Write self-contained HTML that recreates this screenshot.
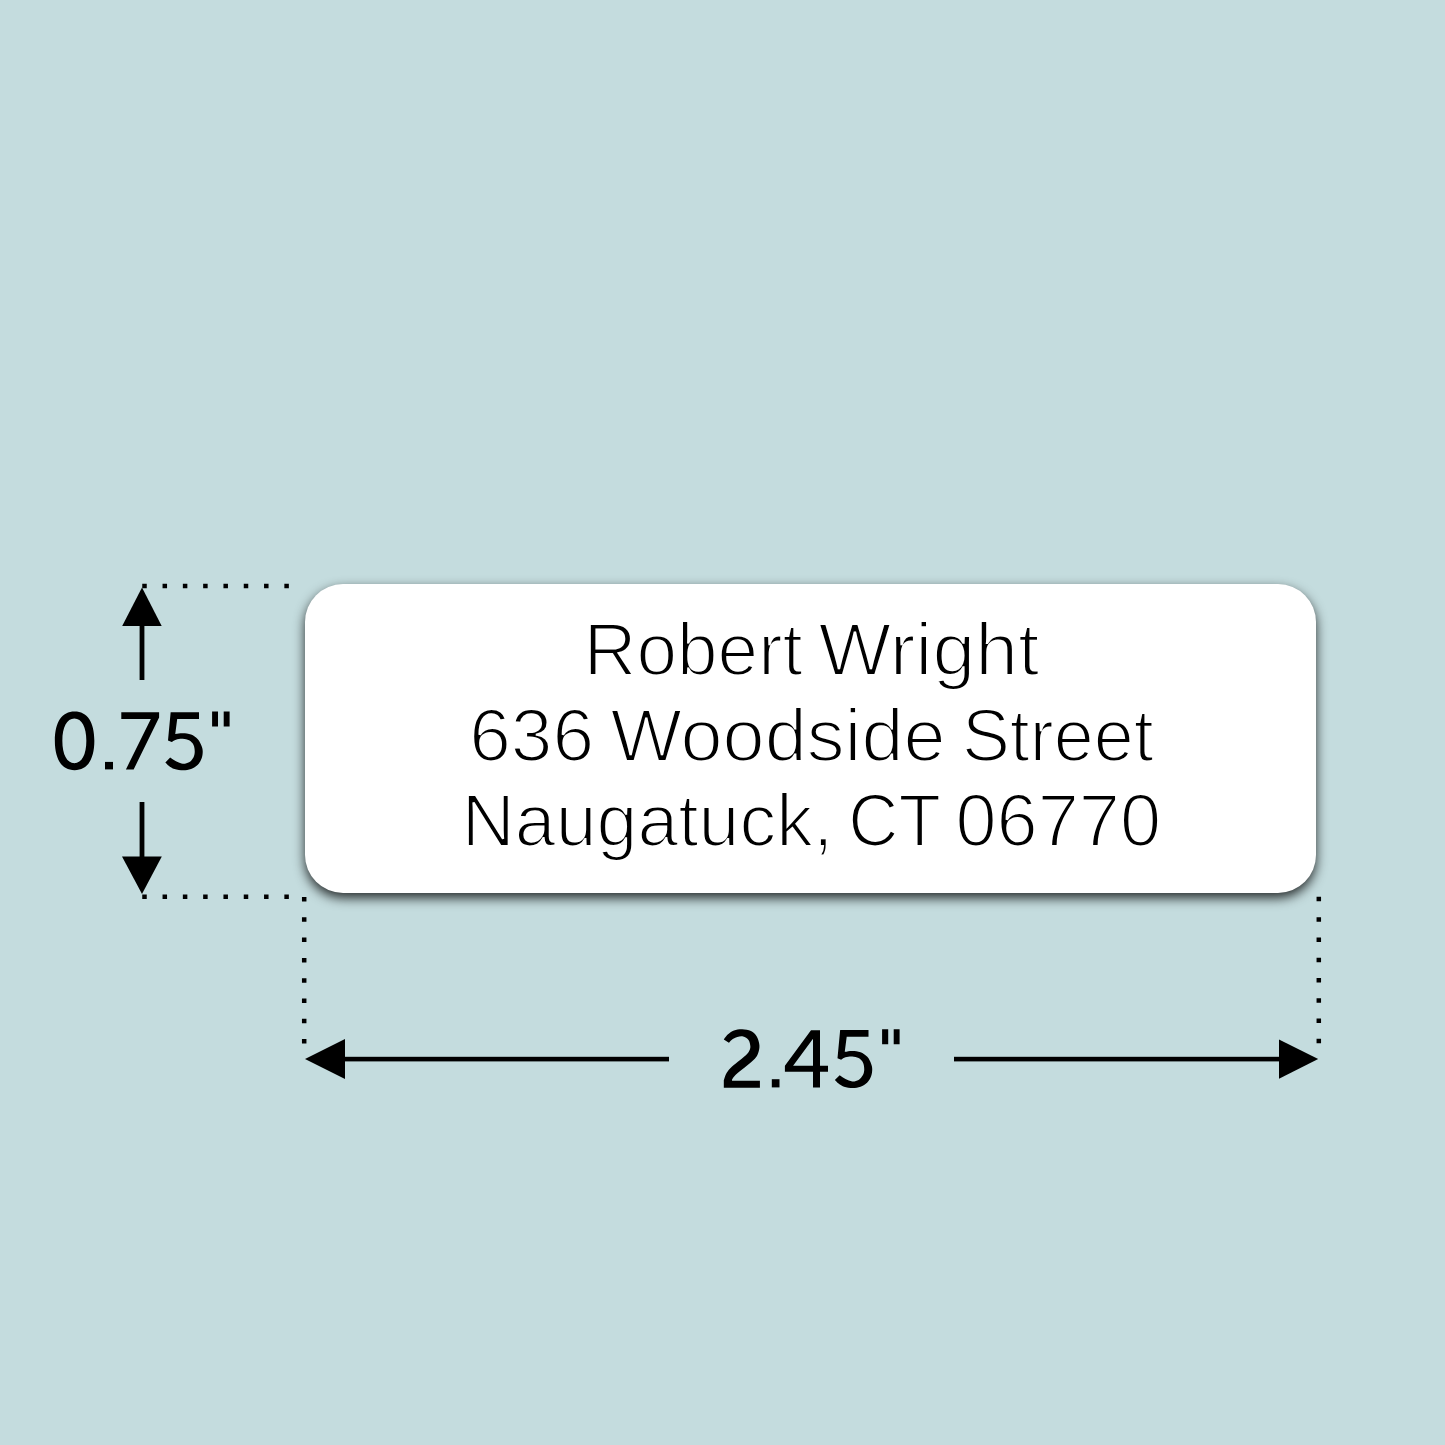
<!DOCTYPE html>
<html>
<head>
<meta charset="utf-8">
<style>
html,body{margin:0;padding:0;}
body{width:1445px;height:1445px;background:#C4DCDE;position:relative;overflow:hidden;font-family:"Liberation Sans",sans-serif;}
#label{position:absolute;left:305px;top:584px;width:1011px;height:309px;border-radius:38px;background:#fff;box-shadow:0 5px 12px rgba(0,0,0,0.8);}
svg{position:absolute;left:0;top:0;}
</style>
</head>
<body>
<div id="label"></div>
<svg width="1445" height="1445" viewBox="0 0 1445 1445">
<g font-family="Liberation Sans, sans-serif" font-size="73.5" fill="#000" stroke="#fff" stroke-width="2.2" paint-order="fill">
<text x="583.85" y="674.5" textLength="218.88" lengthAdjust="spacingAndGlyphs">Robert</text>
<text x="818.51" y="674.5" textLength="220.83" lengthAdjust="spacingAndGlyphs">Wright</text>
<text x="469.2" y="760.5" textLength="124.91" lengthAdjust="spacingAndGlyphs">636</text>
<text x="610.5" y="760.5" textLength="335.07" lengthAdjust="spacingAndGlyphs">Woodside</text>
<text x="961.92" y="760.5" textLength="191.81" lengthAdjust="spacingAndGlyphs">Street</text>
<text x="461.85" y="846" textLength="371.45" lengthAdjust="spacingAndGlyphs">Naugatuck,</text>
<text x="848.21" y="846" textLength="92.67" lengthAdjust="spacingAndGlyphs">CT</text>
<text x="955.43" y="846" textLength="205.61" lengthAdjust="spacingAndGlyphs">06770</text>
</g>
<g fill="#000" fill-rule="evenodd">
<path d="M74.6,711.55 C87.24,711.55 94.35,722.1 94.35,740.85 C94.35,759.6 87.24,770.15 74.6,770.15 C61.96,770.15 54.85,759.6 54.85,740.85 C54.85,722.1 61.96,711.55 74.6,711.55 Z M74.35,718.56 C81.79,718.56 86.35,727.03 86.35,740.86 C86.35,754.69 81.79,763.16 74.35,763.16 C66.91,763.16 62.35,754.69 62.35,740.86 C62.35,727.03 66.91,718.56 74.35,718.56 Z"/>
<path d="M105,761.9H113V769.4H105Z"/>
<path d="M121.3,712.27H159.1V717.6L133.65,769.4H125.9L150.85,719.05H121.3Z"/>
<path d="M170.66,712.27L199,712.27L199,719.05L177.2,719.05L175.26,734.07C177.76,733.78 180.15,733.12 182.77,733.2C185.4,733.28 188.5,733.56 191.01,734.55C193.51,735.55 196.01,737.22 197.79,739.16C199.57,741.09 200.84,744.12 201.67,746.18C202.49,748.24 202.73,749.49 202.73,751.51C202.73,753.53 202.49,756.07 201.67,758.29C200.84,760.52 199.57,763.04 197.79,764.84C196.01,766.63 193.43,768.14 191.01,769.05C188.59,769.96 186,770.31 183.26,770.31C180.51,770.31 176.96,769.83 174.53,769.05C172.11,768.28 170.26,766.77 168.72,765.66C167.19,764.55 166.46,763.49 165.33,762.41L170.17,757.57C172.11,758.81 173.89,760.27 175.99,761.3C178.09,762.32 180.59,763.56 182.77,763.72C184.95,763.88 187.29,763.32 189.07,762.27C190.85,761.22 192.49,759.22 193.43,757.42C194.38,755.63 194.74,753.61 194.74,751.51C194.74,749.41 194.38,746.68 193.43,744.83C192.49,742.97 190.85,741.37 189.07,740.37C187.29,739.37 184.95,738.94 182.77,738.82C180.59,738.7 177.85,739.1 175.99,739.64C174.13,740.18 173.08,741.26 171.63,742.06L167.99,740.61L170.66,712.27Z"/>
<path d="M212.1,711.4H218V726.5H212.1Z M223.7,711.4H229.6V726.5H223.7Z"/>
<path d="M723.81,1039.44C725.11,1037.83 725.99,1036.09 727.69,1034.6C729.39,1033.1 731.57,1031.37 733.99,1030.48C736.41,1029.59 739.4,1029.19 742.22,1029.27C745.05,1029.35 748.52,1029.75 750.95,1030.96C753.37,1032.17 755.35,1034.15 756.76,1036.53C758.17,1038.92 759.18,1042.51 759.42,1045.26C759.67,1048 758.98,1050.75 758.21,1053.01C757.45,1055.27 756.68,1056.72 754.82,1058.82C752.96,1060.92 749.98,1063.18 747.07,1065.6C744.16,1068.03 739.8,1071.18 737.38,1073.36C734.96,1075.54 733.42,1077.43 732.53,1078.69C731.65,1079.94 732.21,1080.14 732.05,1080.87L759.91,1080.87L759.91,1087.65L723.81,1087.65L723.81,1080.14C724.78,1077.72 725.35,1075.13 726.72,1072.87C728.09,1070.61 729.87,1068.67 732.05,1066.57C734.23,1064.47 737.3,1062.37 739.8,1060.28C742.31,1058.18 745.37,1055.83 747.07,1053.98C748.77,1052.12 749.45,1050.59 749.98,1049.13C750.5,1047.68 750.46,1046.79 750.22,1045.26C749.98,1043.72 749.69,1041.38 748.52,1039.93C747.35,1038.47 745.05,1037.02 743.19,1036.53C741.34,1036.05 739.32,1036.45 737.38,1037.02C735.44,1037.58 732.98,1038.96 731.57,1039.93C730.15,1040.9 729.79,1041.86 728.9,1042.83L723.81,1039.44Z"/>
<path d="M771.8,1079.2H779.5V1087.4H771.8Z"/>
<path d="M811,1030.2H820V1065.8H828V1071.7H820V1087.4H813V1071.7H784.9V1065.8Z M813,1038.7V1065.8H793.1Z"/>
<path transform="translate(669.5,317.7)" d="M170.66,712.27L199,712.27L199,719.05L177.2,719.05L175.26,734.07C177.76,733.78 180.15,733.12 182.77,733.2C185.4,733.28 188.5,733.56 191.01,734.55C193.51,735.55 196.01,737.22 197.79,739.16C199.57,741.09 200.84,744.12 201.67,746.18C202.49,748.24 202.73,749.49 202.73,751.51C202.73,753.53 202.49,756.07 201.67,758.29C200.84,760.52 199.57,763.04 197.79,764.84C196.01,766.63 193.43,768.14 191.01,769.05C188.59,769.96 186,770.31 183.26,770.31C180.51,770.31 176.96,769.83 174.53,769.05C172.11,768.28 170.26,766.77 168.72,765.66C167.19,764.55 166.46,763.49 165.33,762.41L170.17,757.57C172.11,758.81 173.89,760.27 175.99,761.3C178.09,762.32 180.59,763.56 182.77,763.72C184.95,763.88 187.29,763.32 189.07,762.27C190.85,761.22 192.49,759.22 193.43,757.42C194.38,755.63 194.74,753.61 194.74,751.51C194.74,749.41 194.38,746.68 193.43,744.83C192.49,742.97 190.85,741.37 189.07,740.37C187.29,739.37 184.95,738.94 182.77,738.82C180.59,738.7 177.85,739.1 175.99,739.64C174.13,740.18 173.08,741.26 171.63,742.06L167.99,740.61L170.66,712.27Z"/>
<path d="M882.1,1029.3H888.2V1044.2H882.1Z M893.7,1029.3H899.6V1044.2H893.7Z"/>
</g>
<g fill="#000">
<path d="M142,587.5L161.7,626H122.2Z"/>
<rect x="139.6" y="625" width="4.8" height="55"/>
<rect x="139.6" y="802" width="4.8" height="55.5"/>
<path d="M122,856.5H161.8L142,894Z"/>
<path d="M305,1059L345,1039V1079Z"/>
<rect x="344" y="1056.8" width="325" height="4.6"/>
<rect x="954" y="1056.8" width="326" height="4.6"/>
<path d="M1279,1039.5L1318.2,1059L1279,1078.7Z"/>
<path d="M142.25,583.75h4.5v4.5h-4.5ZM142.25,894.55h4.5v4.5h-4.5ZM301.95,897.05h4.5v4.5h-4.5ZM1316.55,896.85h4.5v4.5h-4.5ZM162.55,583.75h4.5v4.5h-4.5ZM162.55,894.55h4.5v4.5h-4.5ZM301.95,917.33h4.5v4.5h-4.5ZM1316.55,917.13h4.5v4.5h-4.5ZM182.85,583.75h4.5v4.5h-4.5ZM182.85,894.55h4.5v4.5h-4.5ZM301.95,937.61h4.5v4.5h-4.5ZM1316.55,937.41h4.5v4.5h-4.5ZM203.15,583.75h4.5v4.5h-4.5ZM203.15,894.55h4.5v4.5h-4.5ZM301.95,957.89h4.5v4.5h-4.5ZM1316.55,957.69h4.5v4.5h-4.5ZM223.45,583.75h4.5v4.5h-4.5ZM223.45,894.55h4.5v4.5h-4.5ZM301.95,978.17h4.5v4.5h-4.5ZM1316.55,977.97h4.5v4.5h-4.5ZM243.75,583.75h4.5v4.5h-4.5ZM243.75,894.55h4.5v4.5h-4.5ZM301.95,998.45h4.5v4.5h-4.5ZM1316.55,998.25h4.5v4.5h-4.5ZM264.05,583.75h4.5v4.5h-4.5ZM264.05,894.55h4.5v4.5h-4.5ZM301.95,1018.73h4.5v4.5h-4.5ZM1316.55,1018.53h4.5v4.5h-4.5ZM284.35,583.75h4.5v4.5h-4.5ZM284.35,894.55h4.5v4.5h-4.5ZM301.95,1039.01h4.5v4.5h-4.5ZM1316.55,1038.81h4.5v4.5h-4.5Z"/>
</g>
</svg>
</body>
</html>
